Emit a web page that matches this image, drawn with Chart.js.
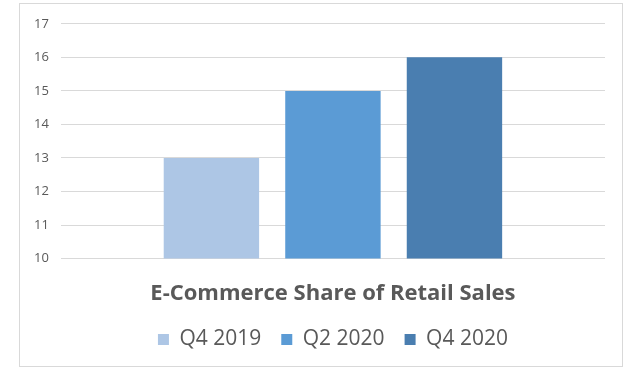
<!DOCTYPE html>
<html>
<head>
<meta charset="utf-8">
<script src="https://cdn.jsdelivr.net/npm/chart.js@4"></script>
<style>
  body { margin: 0; background: #fff; }
  #box {
    position: absolute; left: 19px; top: 3px;
    width: 604px; height: 364px;
    box-sizing: border-box;
    border: 1px solid #d9d9d9;
  }
  #mychart { display: block; }
</style>
</head>
<body>
<div id="box"><canvas id="mychart" width="602" height="362"></canvas></div>
<script>
// one category, one dataset per quarter (like the original spreadsheet chart)
const categories = ['E-Commerce Share of Retail Sales']
const quarters = ['Q4 2019', 'Q2 2020', 'Q4 2020']
const shares = [13, 15, 16]
const barColors = ['#adc6e5', '#5b9bd5', '#4a7eb0']
const yTicks = [10, 11, 12, 13, 14, 15, 16, 17]

const textGrey = '#595959'

function drawchart(){
    const canvasforchart = document.getElementById('mychart')
    new Chart(canvasforchart, {
        type: 'bar',
        data: {
            labels: categories,
            datasets: quarters.map(function(q, i){
                return {
                    label: q,
                    data: [shares[i]],
                    backgroundColor: barColors[i],
                    borderWidth: 0,
                    categoryPercentage: 0.67,
                    barPercentage: 0.785
                }
            })
        },
        options: {
            responsive: false,
            animation: false,
            layout: {
                padding: { top: 10, left: 2, right: 17, bottom: 6 }
            },
            scales: {
                x: {
                    display: false
                },
                y: {
                    min: yTicks[0],
                    max: yTicks[yTicks.length - 1],
                    afterBuildTicks: function(axis){
                        axis.ticks = yTicks.map(function(v){ return { value: v } })
                    },
                    border: { display: false },
                    grid: { color: '#d9d9d9', lineWidth: 1, drawTicks: false },
                    ticks: {
                        color: textGrey,
                        padding: 12,
                        font: { family: 'Open Sans', size: 13 }
                    }
                }
            },
            plugins: {
                tooltip: { enabled: false },
                title: {
                    display: true,
                    text: 'E-Commerce Share of Retail Sales',
                    position: 'bottom',
                    fullSize: false,
                    weight: 1000,
                    color: textGrey,
                    font: { family: 'Open Sans', size: 22, weight: 'bold' },
                    padding: { top: 22, bottom: 2 }
                },
                legend: {
                    position: 'bottom',
                    fullSize: false,
                    weight: 3000,
                    labels: {
                        color: textGrey,
                        boxWidth: 11,
                        boxHeight: 11,
                        padding: 20,
                        font: { family: 'Open Sans', size: 21 }
                    }
                }
            }
        }
    })
}
drawchart()
</script>
</body>
</html>
